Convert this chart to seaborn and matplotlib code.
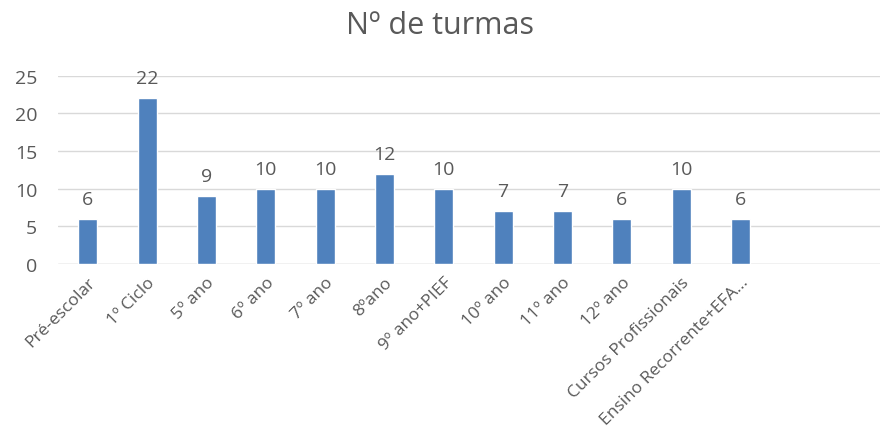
import pandas as pd
import seaborn as sns
import matplotlib.pyplot as plt

# Data
categories = ["Pré-escolar", "1º Ciclo", "5º ano", "6º ano", "7º ano", "8ºano",
              "9º ano+PIEF", "10º ano", "11º ano", "12º ano",
              "Cursos Profissionais", "Ensino Recorrente+EFA..."]
turmas = [6, 22, 9, 10, 10, 12, 10, 7, 7, 6, 10, 6]
yticks = [0, 5, 10, 15, 20, 25]

df = pd.DataFrame({"categoria": categories, "turmas": turmas})

sns.set_style("white")
plt.rcParams["font.family"] = ["Open Sans", "DejaVu Sans"]

fig = plt.figure(figsize=(8.8, 4.39), dpi=100)
ax = fig.add_axes([0.066, 0.396, 0.934, 0.429])

sns.barplot(data=df, x="categoria", y="turmas", order=categories,
            color="#4F81BD", width=0.32, saturation=1, ax=ax, zorder=3)

for container in ax.containers:
    ax.bar_label(container, padding=8, fontsize=14, color="#595959")

ax.set_ylim(0, 25)
ax.set_yticks(yticks)
ax.set_xlim(-0.5, 13.35)
ax.yaxis.grid(True, color="#d9d9d9", linewidth=1, zorder=0)
ax.set_xlabel("")
ax.set_ylabel("")
for side in ["top", "right", "left", "bottom"]:
    ax.spines[side].set_visible(False)
ax.axhline(0, color="#d9d9d9", linewidth=1, zorder=1)

ax.tick_params(axis="y", length=0, labelsize=14, colors="#595959", pad=15)
ax.tick_params(axis="x", length=0, labelsize=12.5, colors="#595959", pad=7)
plt.setp(ax.get_xticklabels(), rotation=45, ha="right", rotation_mode="anchor")

fig.suptitle("Nº de turmas", fontsize=22, color="#595959", y=0.975)

fig.savefig("out.png", dpi=100)
